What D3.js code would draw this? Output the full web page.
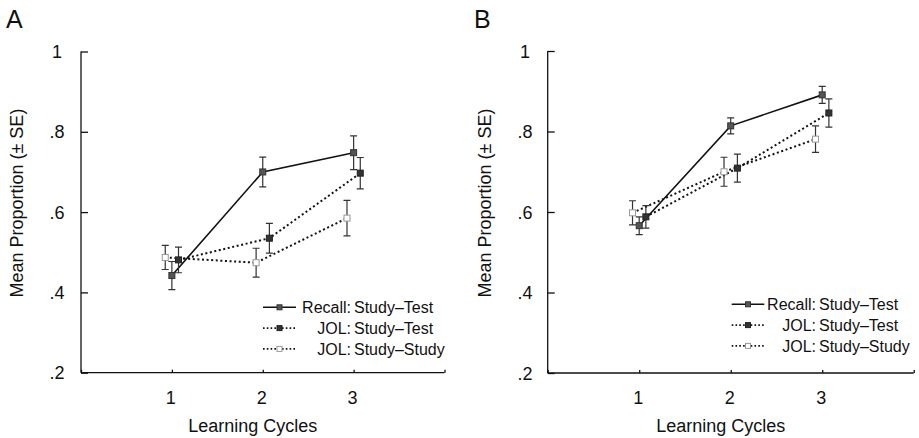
<!DOCTYPE html>
<html>
<head>
<meta charset="utf-8">
<script src="https://cdn.jsdelivr.net/npm/d3@7"></script>
<style>
  body { margin: 0; background: #fff; }
  text { font-family: "Liberation Sans", Arial, sans-serif; fill: #111; }
</style>
</head>
<body>
<script>
var width = 919, height = 438;

// learning cycles on the x axis
const cycles = [1, 2, 3];
const xTicks = [0, 1, 2, 3, 4];
const yTicks = [0.2, 0.4, 0.6, 0.8, 1];
const yTickLabels = [".2", ".4", ".6", ".8", "1"];

// panel A
const recallA      = [0.442, 0.700, 0.748];
const recallA_se   = [0.035, 0.037, 0.042];
const jolTestA     = [0.481, 0.535, 0.697];
const jolTestA_se  = [0.032, 0.037, 0.039];
const jolStudyA    = [0.487, 0.474, 0.585];
const jolStudyA_se = [0.030, 0.036, 0.044];

// panel B
const recallB      = [0.566, 0.814, 0.891];
const recallB_se   = [0.022, 0.020, 0.021];
const jolTestB     = [0.588, 0.709, 0.846];
const jolTestB_se  = [0.028, 0.035, 0.035];
const jolStudyB    = [0.598, 0.700, 0.781];
const jolStudyB_se = [0.030, 0.036, 0.033];

const legendPrefix = ["Recall:", "JOL:", "JOL:"];
const legendSuffix = ["Study\u2013Test", "Study\u2013Test", "Study\u2013Study"];

var svg = d3.select('body').append('svg')
    .attr('width', width)
    .attr('height', height);

// series look: offset in x units, dotted or not, marker colours
const seriesStyle = [
    { dx: 0,      dash: null,    fill: '#555', stroke: '#333' },
    { dx: 0.073,  dash: '2,2.6', fill: '#333', stroke: '#222' },
    { dx: -0.073, dash: '2,2.6', fill: '#fff', stroke: '#999' }
];

function drawPanel(p) {
    var x = d3.scaleLinear().domain([0, 4]).range([p.left, p.right]);
    var y = d3.scaleLinear().domain([0.2, 1]).range([p.bottom, p.top]);

    var g = svg.append('g');

    g.append('text')
        .attr('x', p.labelX).attr('y', 28)
        .attr('font-size', 25)
        .text(p.label);

    // y axis, ticks point inward
    var yAxis = d3.axisLeft(y).tickValues(yTicks).tickSize(-7).tickFormat('');
    var ga = g.append('g').attr('transform', 'translate(' + p.left + ',0)').call(yAxis);
    ga.select('.domain').attr('d', 'M0,' + y(1) + 'V' + y(0.2));
    ga.select('.tick:first-child line').remove();

    var xAxis = d3.axisBottom(x).tickValues(xTicks).tickSize(-3).tickFormat('');
    var gx = g.append('g').attr('transform', 'translate(0,' + p.bottom + ')').call(xAxis);
    gx.select('.domain').attr('d', 'M' + x(0) + ',0H' + x(4));

    [ga, gx].forEach(function (a) {
        a.selectAll('path, line').attr('stroke', '#111').attr('stroke-width', 1.3);
    });

    // tick labels are centred on a column left of the axis
    g.selectAll('.ylab').data(yTicks).enter().append('text')
        .attr('x', p.tickLabelX).attr('y', d => y(d) + 6.5)
        .attr('text-anchor', 'middle').attr('font-size', 18)
        .text((d, i) => yTickLabels[i]);

    g.selectAll('.xlab').data(cycles).enter().append('text')
        .attr('x', d => x(d) - 1).attr('y', 404)
        .attr('text-anchor', 'middle').attr('font-size', 18)
        .text(d => d);

    g.append('text')
        .attr('x', x(2) - 10).attr('y', 432)
        .attr('text-anchor', 'middle').attr('font-size', 18)
        .text('Learning Cycles');

    g.append('text')
        .attr('transform', 'translate(' + p.titleX + ',' + (y(0.6) - 9) + ') rotate(-90)')
        .attr('text-anchor', 'middle').attr('font-size', 18)
        .text('Mean Proportion (\u00b1 SE)');

    // lines first, then error bars and markers on top
    p.series.forEach(function (s, k) {
        var st = seriesStyle[k];
        var line = d3.line().x((d, i) => x(cycles[i] + st.dx)).y(d => y(d));
        g.append('path').datum(s.v)
            .attr('d', line)
            .attr('fill', 'none')
            .attr('stroke', '#111')
            .attr('stroke-width', st.dash ? 2 : 1.6)
            .attr('stroke-dasharray', st.dash);
    });

    p.series.forEach(function (s, k) {
        var st = seriesStyle[k];
        s.v.forEach(function (v, i) {
            var cx = x(cycles[i] + st.dx);
            var lo = y(v - s.se[i]), hi = y(v + s.se[i]);
            g.append('path')
                .attr('d', 'M' + cx + ',' + lo + 'V' + hi +
                    'M' + (cx - 3.5) + ',' + lo + 'H' + (cx + 3.5) +
                    'M' + (cx - 3.5) + ',' + hi + 'H' + (cx + 3.5))
                .attr('stroke', '#333').attr('stroke-width', 1.2).attr('fill', 'none');
            g.append('rect')
                .attr('x', cx - 3).attr('y', y(v) - 3)
                .attr('width', 6).attr('height', 6)
                .attr('fill', st.fill).attr('stroke', st.stroke).attr('stroke-width', 1);
        });
    });

    // legend
    legendPrefix.forEach(function (t, k) {
        var st = seriesStyle[k];
        var ly = p.legendY + k * 20.8;
        var mid = (p.legX0 + p.legX1) / 2;
        g.append('line')
            .attr('x1', p.legX0).attr('x2', p.legX1).attr('y1', ly).attr('y2', ly)
            .attr('stroke', '#111')
            .attr('stroke-width', st.dash ? 1.8 : 1.5)
            .attr('stroke-dasharray', st.dash ? '1.6,2.2' : null);
        g.append('rect')
            .attr('x', mid - 2.5).attr('y', ly - 2.5).attr('width', 5).attr('height', 5)
            .attr('fill', st.fill).attr('stroke', st.stroke).attr('stroke-width', 1);
        g.append('text')
            .attr('x', p.legColon).attr('y', ly + 6)
            .attr('text-anchor', 'end').attr('font-size', 16)
            .text(t);
        g.append('text')
            .attr('x', p.legColon + 3).attr('y', ly + 6)
            .attr('font-size', 16)
            .text(legendSuffix[k]);
    });
}

drawPanel({
    label: 'A', labelX: 6,
    left: 81, right: 444.5, top: 51.5, bottom: 372.7,
    tickLabelX: 57, titleX: 23,
    legendY: 307.3, legX0: 263, legX1: 296, legColon: 351,
    series: [
        { v: recallA, se: recallA_se },
        { v: jolTestA, se: jolTestA_se },
        { v: jolStudyA, se: jolStudyA_se }
    ]
});

drawPanel({
    label: 'B', labelX: 474,
    left: 547.7, right: 913.7, top: 51, bottom: 373,
    tickLabelX: 525, titleX: 491,
    legendY: 304.3, legX0: 731.7, legX1: 764.3, legColon: 816,
    series: [
        { v: recallB, se: recallB_se },
        { v: jolTestB, se: jolTestB_se },
        { v: jolStudyB, se: jolStudyB_se }
    ]
});
</script>
</body>
</html>
